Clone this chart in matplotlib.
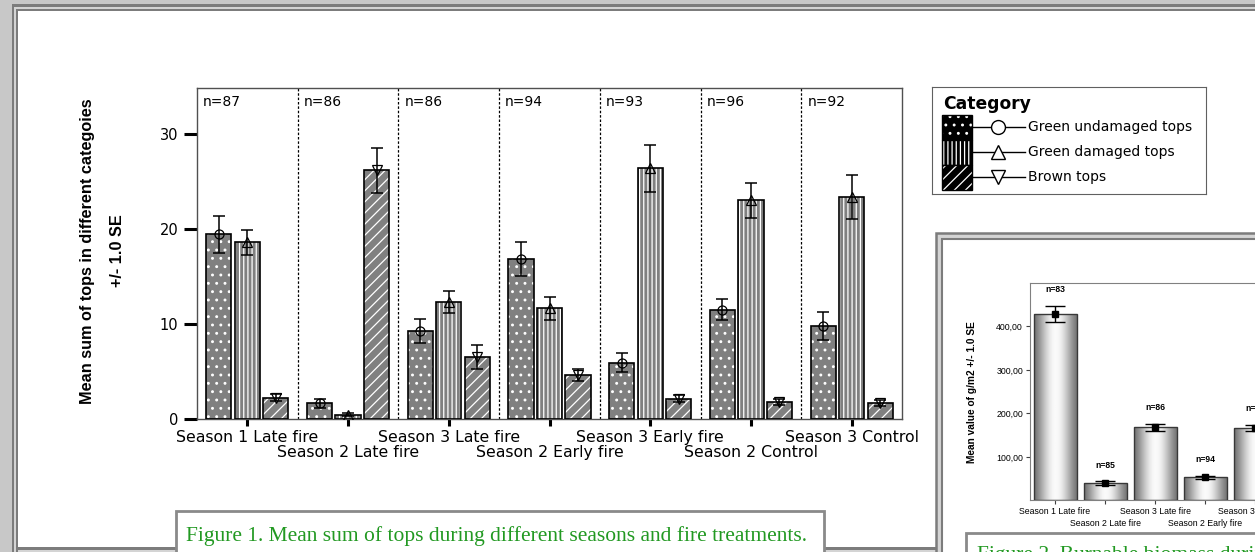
import numpy as np
import matplotlib
matplotlib.use('Agg')
import matplotlib.pyplot as plt
from matplotlib.patches import Rectangle

W, H = 1255, 552

# ---- Figure 1 data (mean sum of tops, +/- 1 SE) ----
treatments = ['Season 1 Late fire', 'Season 2 Late fire', 'Season 3 Late fire',
              'Season 2 Early fire', 'Season 3 Early fire', 'Season 2 Control',
              'Season 3 Control']
n_counts = [87, 86, 86, 94, 93, 96, 92]
categories = ['Green undamaged tops', 'Green damaged tops', 'Brown tops']
undamaged_mean = [19.45, 1.65, 9.3, 16.85, 5.95, 11.5, 9.8]
undamaged_se = [1.95, 0.45, 1.25, 1.75, 1.05, 1.1, 1.5]
damaged_mean = [18.6, 0.45, 12.35, 11.65, 26.4, 23.05, 23.4]
damaged_se = [1.3, 0.15, 1.15, 1.25, 2.5, 1.85, 2.3]
brown_mean = [2.25, 26.2, 6.55, 4.65, 2.15, 1.8, 1.7]
brown_se = [0.35, 2.35, 1.25, 0.65, 0.35, 0.3, 0.3]

# ---- Figure 2 data (biomass g/m2, only visible part) ----
biomass_labels = treatments[:5]
biomass_n = [83, 85, 86, 94, 93]
biomass_mean = [429, 39, 168, 53, 167]
biomass_se = [19, 4.5, 8, 4, 7.5]

hatches = ['..', '||||', '///']
markers = ['o', '^', 'v']
GREEN = '#229922'

plt.rcParams['hatch.color'] = 'white'
plt.rcParams['hatch.linewidth'] = 0.9

fig = plt.figure(figsize=(W / 100, H / 100), dpi=100)
fig.patch.set_facecolor('#c8c8c8')

# ---- poster background panels (pixel coordinates) ----
bg = fig.add_axes([0, 0, 1, 1], zorder=-10)
bg.set_xlim(0, W)
bg.set_ylim(H, 0)
bg.axis('off')
bg.add_patch(Rectangle((12, 4), W, H, facecolor='#7c7c7c', lw=0))
bg.add_patch(Rectangle((14, 6.5), W, H, facecolor='#d4d4d4', lw=0))
bg.add_patch(Rectangle((16, 9), W, H, facecolor='#7c7c7c', lw=0))
bg.add_patch(Rectangle((18, 11), W, H, facecolor='white', lw=0))
bg.add_patch(Rectangle((18, 547), 920, 2.5, facecolor='#7c7c7c', lw=0))
bg.add_patch(Rectangle((18, 549.5), 920, 5, facecolor='#d4d4d4', lw=0))

# caption box figure 1
bg.add_patch(Rectangle((176, 511), 648, 60, facecolor='white', edgecolor='#8a8a8a', lw=2))
bg.text(186, 536, 'Figure 1. Mean sum of tops during different seasons and fire treatments.',
        color=GREEN, family='Liberation Serif', fontsize=15.5, ha='left', va='center')

# figure 2 panel
bg.add_patch(Rectangle((936, 233), 340, 340, facecolor='#d4d4d4', edgecolor='#7c7c7c', lw=1.8))
bg.add_patch(Rectangle((941.5, 238.5), 340, 340, facecolor='white', edgecolor='#7c7c7c', lw=1.5))
bg.add_patch(Rectangle((966, 533), 320, 60, facecolor='white', edgecolor='#8a8a8a', lw=2))
bg.text(977, 545.5, 'Figure 2. Burnable biomass during different seasons and fire treatments.',
        color=GREEN, family='Liberation Serif', fontsize=15.5, ha='left', va='top')

# ---- Figure 1: grouped bars ----
ax = fig.add_axes([197 / W, 1 - 419 / H, 705 / W, 331 / H])
x = np.arange(len(treatments))
offsets = [-0.283, 0.0, 0.283]
series = [(undamaged_mean, undamaged_se), (damaged_mean, damaged_se), (brown_mean, brown_se)]
for k, (means, ses) in enumerate(series):
    xs = x + offsets[k]
    ax.bar(xs, means, width=0.25, color='#808080', edgecolor='white', linewidth=0,
           hatch=hatches[k], zorder=2)
    ax.bar(xs, means, width=0.25, fill=False, edgecolor='black', linewidth=1.2, zorder=3)
    ax.errorbar(xs, means, yerr=ses, fmt='none', ecolor='black', elinewidth=1.1,
                capsize=4.2, capthick=1.1, zorder=4)
    ax.plot(xs, means, linestyle='none', marker=markers[k], markersize=6.5,
            markerfacecolor='none', markeredgecolor='black', markeredgewidth=0.9, zorder=5)

for i in range(len(treatments) - 1):
    ax.axvline(i + 0.5, color='black', lw=0.9, linestyle=(0, (2, 1.5)), zorder=1)
for i, n in enumerate(n_counts):
    ax.text(i - 0.44, 33.4, 'n=%d' % n, fontsize=10, ha='left', va='center')

ax.set_xlim(-0.5, len(treatments) - 0.5)
ax.set_ylim(0, 34.87)
ax.set_yticks([0, 10, 20, 30])
ax.tick_params(axis='y', length=9.5, width=2.2, pad=4, labelsize=10.5)
# staggered category labels: even ones on major ticks, odd ones on minor ticks
ax.set_xticks(x[::2])
ax.set_xticklabels(treatments[::2])
ax.set_xticks(x[1::2], minor=True)
ax.set_xticklabels(treatments[1::2], minor=True)
ax.tick_params(axis='x', which='major', length=5, width=2.2, pad=3, labelsize=11.3)
ax.tick_params(axis='x', which='minor', length=5, width=2.2, pad=13.8, labelsize=11.3)
for s in ax.spines.values():
    s.set_color('#505050')
    s.set_linewidth(1)

fig.text(88 / W, 1 - 251 / H, 'Mean sum of tops in different categoies', rotation=90,
         ha='center', va='center', fontweight='bold', family='Liberation Sans', fontsize=11.7)
fig.text(118 / W, 1 - 251 / H, '+/- 1.0 SE', rotation=90,
         ha='center', va='center', fontweight='bold', family='Liberation Sans', fontsize=11.7)

# ---- legend (drawn in pixel coordinates) ----
lax = fig.add_axes([932 / W, 1 - 194 / H, 274 / W, 107 / H])
lax.set_xlim(932, 1206)
lax.set_ylim(194, 87)
lax.set_xticks([])
lax.set_yticks([])
for s in lax.spines.values():
    s.set_color('#606060')
lax.text(943, 104, 'Category', fontweight='heavy', fontsize=12.3, va='center', ha='left')
for k, cat in enumerate(categories):
    c = 127 + 25 * k
    lax.add_patch(Rectangle((942, c - 12.5), 30, 25, facecolor='black', edgecolor='white',
                            lw=0, hatch=hatches[k]))
    lax.add_patch(Rectangle((942, c - 12.5), 30, 25, fill=False, edgecolor='black', lw=1))
    lax.plot([972, 1025], [c, c], color='black', lw=1)
    lax.plot([998], [c], marker=markers[k], markersize=10, markerfacecolor='white',
             markeredgecolor='black', markeredgewidth=1)
    lax.text(1028, c, cat, fontsize=10, va='center', ha='left')

# ---- Figure 2 (partly cut at the right edge) ----
ax2 = fig.add_axes([1030 / W, 1 - 500.4 / H, 350 / W, 217.4 / H])
x2 = np.arange(len(biomass_mean))
bars = ax2.bar(x2, biomass_mean, width=0.86, color='none', edgecolor='#383838',
               linewidth=1, zorder=3)
t = np.linspace(0, 1, 200)
shade = 0.38 + 0.6 * np.sin(np.pi * np.clip(t * 0.75 + 0.12, 0, 1)) ** 2.2
for b in bars:
    im = ax2.imshow(shade[None, :], extent=[b.get_x(), b.get_x() + b.get_width(), 0, b.get_height()],
                    aspect='auto', cmap='gray', vmin=0, vmax=1, zorder=2)
    im.set_clip_path(b)
ax2.errorbar(x2, biomass_mean, yerr=biomass_se, fmt='s', color='black', markersize=5,
             elinewidth=1, capsize=7.5, capthick=1, zorder=4)
for xi, m, se, n in zip(x2, biomass_mean, biomass_se, biomass_n):
    ax2.annotate('n=%d' % n, (xi, m + se), xytext=(0, 11.5), textcoords='offset points',
                 ha='center', va='center', fontsize=6.2, fontweight='bold',
                 family='Liberation Sans')
ax2.set_xlim(-0.5, 6.5)
ax2.set_ylim(0, 500)
ax2.set_yticks([100, 200, 300, 400])
ax2.set_yticklabels(['100,00', '200,00', '300,00', '400,00'])
ax2.set_xticks(x2[::2])
ax2.set_xticklabels(biomass_labels[::2])
ax2.set_xticks(x2[1::2], minor=True)
ax2.set_xticklabels(biomass_labels[1::2], minor=True)
ax2.tick_params(axis='both', which='both', length=3, width=0.8, color='#404040',
                labelsize=6.3, pad=2)
ax2.tick_params(axis='x', which='minor', pad=10.6)
for lab in ax2.get_yticklabels() + ax2.get_xticklabels() + ax2.get_xticklabels(minor=True):
    lab.set_family('Liberation Sans')
for s in ax2.spines.values():
    s.set_color('#808080')
fig.text(972 / W, 1 - 392 / H, 'Mean value of g/m2 +/- 1.0 SE', rotation=90, ha='center',
         va='center', fontweight='bold', family='Liberation Sans', fontsize=7.3)

fig.savefig('out.png', dpi=100, facecolor=fig.get_facecolor())
